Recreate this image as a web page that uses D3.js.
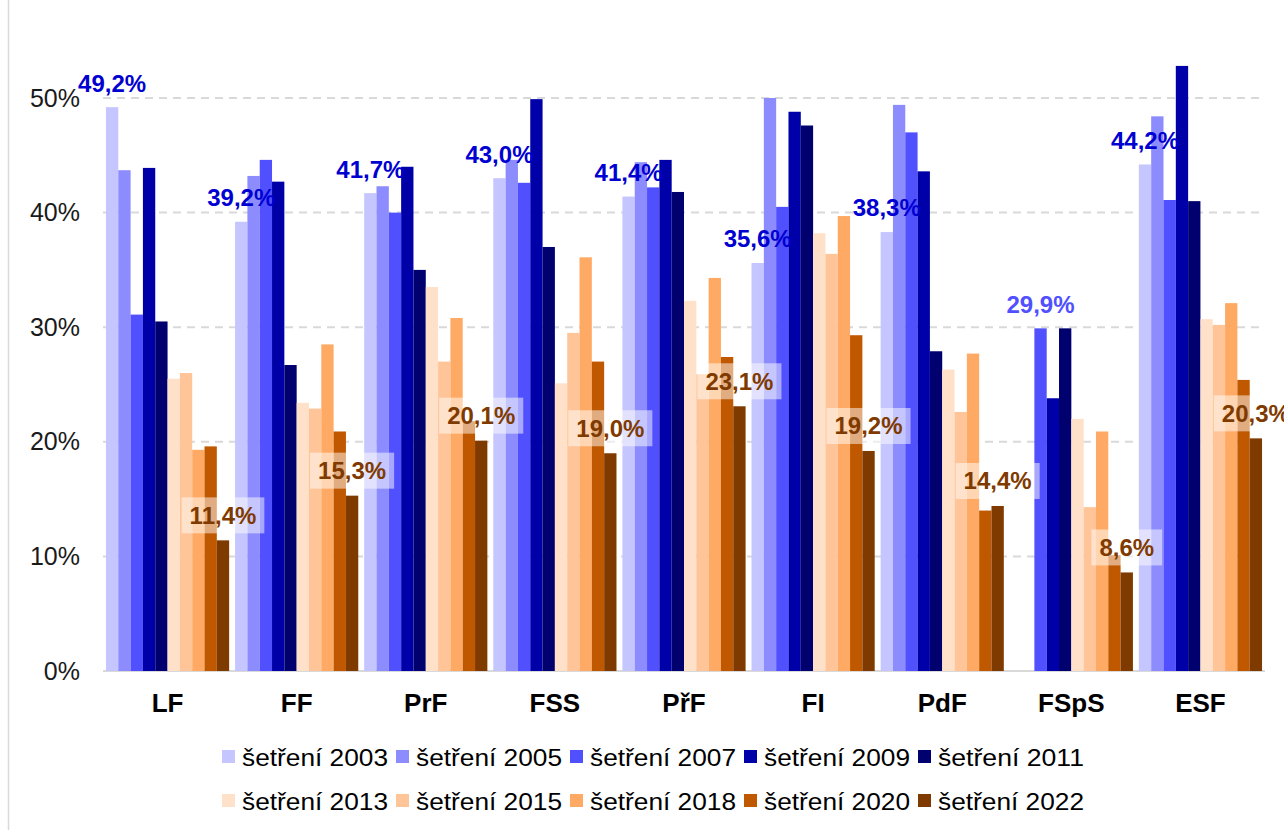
<!DOCTYPE html>
<html>
<head>
<meta charset="utf-8">
<script src="https://cdn.jsdelivr.net/npm/d3@7"></script>
<style>
  html, body { margin: 0; padding: 0; background: #fff; }
  svg { display: block; font-family: "Liberation Sans", Arial, sans-serif; }
</style>
</head>
<body>
<div id="chart"></div>
<script>
const faculties = ['LF', 'FF', 'PrF', 'FSS', 'PřF', 'FI', 'PdF', 'FSpS', 'ESF']
const surveys = ['šetření 2003', 'šetření 2005', 'šetření 2007', 'šetření 2009', 'šetření 2011',
  'šetření 2013', 'šetření 2015', 'šetření 2018', 'šetření 2020', 'šetření 2022']
const colors = ['#c5c5ff', '#8c8cff', '#5050ff', '#0000a8', '#00006e',
  '#ffe0c8', '#ffc497', '#ffaa64', '#c05800', '#7f3a00']

// one array per survey, in faculty order (null = not surveyed)
const s2003 = [49.2, 39.2, 41.7, 43.0, 41.4, 35.6, 38.3, null, 44.2]
const s2005 = [43.7, 43.2, 42.3, 44.6, 44.4, 50.0, 49.4, null, 48.4]
const s2007 = [31.1, 44.6, 40.0, 42.6, 42.2, 40.5, 47.0, 29.9, 41.1]
const s2009 = [43.9, 42.7, 44.0, 49.9, 44.6, 48.8, 43.6, 23.8, 52.8]
const s2011 = [30.5, 26.7, 35.0, 37.0, 41.8, 47.6, 27.9, 29.9, 41.0]
const s2013 = [25.5, 23.4, 33.5, 25.1, 32.3, 38.2, 26.3, 22.0, 30.7]
const s2015 = [26.0, 22.9, 27.0, 29.5, 25.9, 36.4, 22.6, 14.3, 30.2]
const s2018 = [19.3, 28.5, 30.8, 36.1, 34.3, 39.7, 27.7, 20.9, 32.1]
const s2020 = [19.6, 20.9, 21.8, 27.0, 27.4, 29.3, 14.0, 10.1, 25.4]
const s2022 = [11.4, 15.3, 20.1, 19.0, 23.1, 19.2, 14.4, 8.6, 20.3]
const series = [s2003, s2005, s2007, s2009, s2011, s2013, s2015, s2018, s2020, s2022]

const yTicks = [0, 10, 20, 30, 40, 50]

const width = 1284
const height = 830
const fmt = (v) => d3.format('.1f')(v).replace('.', ',')

const svg = d3.select('#chart').append('svg')
    .attr('width', width)
    .attr('height', height)

svg.append('line')
    .attr('x1', 8.5).attr('x2', 8.5)
    .attr('y1', 0).attr('y2', height)
    .attr('stroke', '#d9d9d9')
    .attr('stroke-width', 1.5)

const x = d3.scaleBand()
    .domain(faculties)
    .range([103, 1265])
    .paddingInner(0.046)
    .paddingOuter(0.023)

const xs = d3.scaleBand()
    .domain(d3.range(surveys.length))
    .range([0, x.bandwidth()])

const y = d3.scaleLinear()
    .domain([0, 50])
    .range([671, 98])

// gridlines
svg.append('g')
  .selectAll('line')
  .data(yTicks)
  .join('line')
    .attr('x1', 103).attr('x2', 1265)
    .attr('y1', (d) => y(d)).attr('y2', (d) => y(d))
    .attr('stroke', '#d9d9d9')
    .attr('stroke-width', 2)
    .attr('stroke-dasharray', (d) => d === 0 ? null : '8,6')

const yAxis = svg.append('g')
    .attr('transform', 'translate(80,0)')
    .call(d3.axisLeft(y).tickValues(yTicks).tickSize(0).tickPadding(0).tickFormat((d) => d + '%'))
yAxis.select('.domain').remove()
yAxis.selectAll('text')
    .attr('font-size', 25)
    .attr('font-family', '"Liberation Sans", Arial, sans-serif')
    .attr('fill', '#1a1a1a')

const xAxis = svg.append('g')
    .attr('transform', 'translate(0,671)')
    .call(d3.axisBottom(x).tickSize(0).tickPadding(0))
xAxis.select('.domain').remove()
xAxis.selectAll('text')
    .attr('y', 41)
    .attr('dy', 0)
    .attr('font-size', 26)
    .attr('font-weight', 'bold')
    .attr('font-family', '"Liberation Sans", Arial, sans-serif')
    .attr('fill', '#000')

// bars
const groups = svg.append('g')
  .selectAll('g')
  .data(faculties)
  .join('g')
    .attr('transform', (d) => `translate(${x(d)},0)`)

groups.selectAll('rect')
  .data((f, fi) => series.map((s, si) => ({ si: si, v: s[fi] })).filter((d) => d.v !== null))
  .join('rect')
    .attr('x', (d) => xs(d.si))
    .attr('width', xs.bandwidth())
    .attr('y', (d) => y(d.v))
    .attr('height', (d) => y(0) - y(d.v))
    .attr('fill', (d) => colors[d.si])

// blue labels on first surveyed bar
const firstLabels = faculties.map((f, fi) => {
  const si = series.findIndex((s) => s[fi] !== null)
  return { f: f, si: si, v: series[si][fi] }
})

svg.append('g')
  .selectAll('text')
  .data(firstLabels)
  .join('text')
    .attr('x', (d) => x(d.f) + xs(d.si) + xs.bandwidth() / 2)
    .attr('y', (d) => y(d.v) - 24)
    .attr('dy', '0.35em')
    .attr('text-anchor', 'middle')
    .attr('font-size', 24)
    .attr('font-weight', 'bold')
    .attr('fill', (d) => d.si === 0 ? '#0000d0' : colors[d.si])
    .text((d) => fmt(d.v) + '%')

// brown labels on 2022 with half transparent box
const last = series.length - 1
const lastLabels = svg.append('g')
  .selectAll('g')
  .data(faculties.map((f, fi) => ({ f: f, v: series[last][fi] })))
  .join('g')
    .attr('transform', (d) => `translate(${x(d.f) + xs(last) + xs.bandwidth() / 2},${y(d.v) - 25})`)

lastLabels.append('rect')
    .attr('fill', '#fff')
    .attr('fill-opacity', 0.5)

lastLabels.append('text')
    .attr('dy', '0.35em')
    .attr('text-anchor', 'middle')
    .attr('font-size', 24)
    .attr('font-weight', 'bold')
    .attr('fill', '#7f3a00')
    .text((d) => fmt(d.v) + '%')

lastLabels.each(function () {
  const g = d3.select(this)
  const b = g.select('text').node().getBBox()
  g.select('rect')
      .attr('x', b.x - 8)
      .attr('y', -18)
      .attr('width', b.width + 16)
      .attr('height', 36)
})

// legend, two rows of five
const legend = svg.append('g')
  .selectAll('g')
  .data(surveys)
  .join('g')
    .attr('transform', (d, i) => `translate(${222 + (i % 5) * 174},${750 + Math.floor(i / 5) * 44})`)

legend.append('rect')
    .attr('width', 13)
    .attr('height', 13)
    .attr('fill', (d, i) => colors[i])

legend.append('text')
    .attr('x', 20)
    .attr('y', 16)
    .attr('font-size', 23)
    .attr('textLength', 146)
    .attr('lengthAdjust', 'spacingAndGlyphs')
    .attr('fill', '#000')
    .text((d) => d)
</script>
</body>
</html>
